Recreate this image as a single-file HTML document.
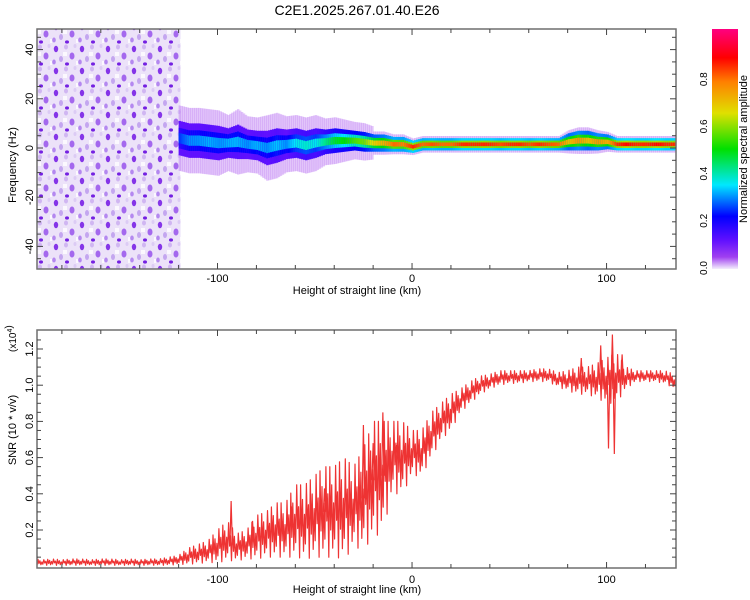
<!DOCTYPE html>
<html><head><meta charset="utf-8">
<style>
body{margin:0;background:#fff;}
svg{display:block;font-family:"Liberation Sans",sans-serif;}
</style></head>
<body>
<svg id="chart" width="750" height="600" viewBox="0 0 750 600">
<defs>
<pattern id="noisePat" width="26" height="22" patternUnits="userSpaceOnUse">
<rect width="26" height="22" fill="#ece2f9"/>
<ellipse cx="4" cy="5" rx="2.2" ry="3.2" fill="#8535e8"/>
<ellipse cx="14" cy="3" rx="2" ry="2.5" fill="#d0b6f2"/>
<ellipse cx="20" cy="12" rx="2.5" ry="3.5" fill="#a468ee"/>
<ellipse cx="9" cy="15" rx="2" ry="3" fill="#c4a6f0"/>
<ellipse cx="23" cy="2" rx="1.5" ry="2" fill="#dccbf5"/>
<ellipse cx="2" cy="18" rx="1.8" ry="2.5" fill="#b488f0"/>
<ellipse cx="15" cy="20" rx="2" ry="1.6" fill="#7420e2"/>
<rect x="11" y="8" width="4" height="4" fill="#fbf8fe"/>
<rect x="24" y="17" width="2" height="4" fill="#fbf8fe"/>
</pattern>
<linearGradient id="cbar" x1="0" y1="1" x2="0" y2="0">
<stop offset="0" stop-color="#f4eefc"/>
<stop offset="0.05" stop-color="#a040f0"/>
<stop offset="0.12" stop-color="#6010ff"/>
<stop offset="0.22" stop-color="#0000ff"/>
<stop offset="0.35" stop-color="#00e8ff"/>
<stop offset="0.5" stop-color="#00e000"/>
<stop offset="0.65" stop-color="#e0e000"/>
<stop offset="0.78" stop-color="#ff8000"/>
<stop offset="0.88" stop-color="#ff0000"/>
<stop offset="1" stop-color="#ff0080"/>
</linearGradient>
<clipPath id="clipTop"><rect x="37" y="29" width="639" height="240"/></clipPath>
<clipPath id="clipBot"><rect x="37" y="330" width="639" height="238"/></clipPath>
</defs>
<text x="357" y="15" font-size="14" text-anchor="middle">C2E1.2025.267.01.40.E26</text>
<g id="topplot" clip-path="url(#clipTop)"></g>
<g id="botplot" clip-path="url(#clipBot)"></g>
<g id="axes"></g>
<rect x="712" y="29" width="26" height="240" fill="url(#cbar)"/>
<g id="cb"></g>
<text transform="translate(747,149) rotate(-90)" font-size="11" text-anchor="middle">Normalized spectral amplitude</text>
<text transform="translate(16,165) rotate(-90)" font-size="11" text-anchor="middle">Frequency (Hz)</text>
<text x="357" y="294" font-size="11" text-anchor="middle">Height of straight line (km)</text>
<text transform="translate(16,430) rotate(-90)" font-size="11" text-anchor="middle">SNR (10 * v/v)</text>
<text transform="translate(16,352) rotate(-90)" font-size="10">(x10<tspan dy="-4" font-size="7">4</tspan>)</text>
<text x="357" y="593" font-size="11" text-anchor="middle">Height of straight line (km)</text>
</svg>
<script>
// ---- data ----
const heightTicks = [-100, 0, 100];
const freqTicks = [-40, -20, 0, 20, 40];
const snrTicks = [0.2, 0.4, 0.6, 0.8, 1.0, 1.2];
const cbTicks = [0.0, 0.2, 0.4, 0.6, 0.8];
const bandHeights = [-120,-115,-110,-105,-100,-95,-90,-85,-80,-75,-70,-65,-60,-55,-50,-45,-40,-35,-30,-25,-20,-15,-10,-5,0,5,10,15,20,25,30,35,40,45,50,55,60,65,70,75,80,85,90,95,100,105,110,115,120,125,130,135];
const bandCenter = [4,3,3,2.5,2,2,2.5,1.5,1,0,1,1.5,2,1,2,2.5,3,3,3,2.5,2,2,1.5,1.5,0.5,1.5,1.5,1.5,1.5,1.5,1.5,1.5,1.5,1.5,1.5,1.5,1.5,1.5,1.5,1.5,2.5,3,3,2.5,2.5,1.5,1.5,1.5,1.5,1.5,1.5,1.5];
const bandWidth = [7,7,7,7,7,6,7,6,6,7,7,6,6,6,6,5,5,4.5,4,4,3.5,3.5,3,3,2.5,2.5,2.5,2.5,2.5,2.5,2.5,2.5,2.5,2.5,2.5,2.5,2.5,2.5,2.5,2.5,3.5,4,4,3.5,3,2.5,2.5,2.5,2.5,2.5,2.5,2.5];
const bandAmp = [0.25,0.3,0.3,0.32,0.3,0.32,0.32,0.3,0.32,0.3,0.33,0.3,0.36,0.38,0.36,0.42,0.48,0.5,0.55,0.58,0.68,0.72,0.8,0.78,0.85,0.8,0.82,0.8,0.8,0.85,0.85,0.85,0.85,0.82,0.85,0.85,0.82,0.85,0.82,0.8,0.7,0.75,0.7,0.75,0.72,0.85,0.88,0.85,0.85,0.88,0.85,0.85];
const snrHeights = [-195,-190,-185,-180,-175,-170,-165,-160,-155,-150,-145,-140,-135,-130,-125,-120,-115,-110,-105,-100,-95,-90,-85,-80,-75,-70,-65,-60,-55,-50,-45,-40,-35,-30,-25,-20,-15,-10,-5,0,5,10,15,20,25,30,35,40,45,50,55,60,65,70,75,80,85,90,95,100,105,110,115,120,125,130,135];
const snrLow = [0.005,0.005,0.005,0.005,0.005,0.005,0.005,0.005,0.005,0.005,0.005,0.005,0.005,0.005,0.005,0.01,0.01,0.015,0.02,0.02,0.03,0.03,0.04,0.04,0.05,0.05,0.05,0.05,0.04,0.05,0.05,0.05,0.04,0.1,0.1,0.15,0.2,0.4,0.4,0.5,0.5,0.6,0.7,0.75,0.85,0.9,0.95,0.98,1.0,1.01,1.01,1.02,1.02,1.02,0.99,0.97,0.95,0.95,0.93,0.9,0.9,0.98,1.02,1.02,1.02,1.01,0.98];
const snrHigh = [0.04,0.035,0.04,0.035,0.04,0.04,0.035,0.04,0.04,0.035,0.04,0.035,0.04,0.04,0.05,0.06,0.1,0.12,0.14,0.2,0.25,0.18,0.2,0.28,0.3,0.35,0.35,0.45,0.45,0.5,0.55,0.55,0.6,0.55,0.65,0.8,0.8,0.8,0.8,0.75,0.75,0.85,0.9,0.95,0.98,1.02,1.05,1.06,1.08,1.08,1.08,1.08,1.09,1.09,1.07,1.08,1.1,1.1,1.12,1.15,1.18,1.1,1.08,1.08,1.08,1.08,1.06];
const spikeHeights = [-93,-82,-62,-45,-25,-20,-15,-8,2,87,97,101,103,104,108];
const spikeValues = [0.36,0.25,0.33,0.43,0.78,0.68,0.85,0.67,0.62,1.15,1.22,0.65,1.28,0.62,1.17];

// ---- scales ----
const X0=37, X1=676, H0=-192.8, H1=135.7;
const xs = h => X0 + (h-H0)/(H1-H0)*(X1-X0);
const fy = f => 148 - f*2.46;
const sy = v => 566.2 - v*181;
const cy = v => 268 - v*236;
const NS='http://www.w3.org/2000/svg';
function mk(tag, attrs, parent){const e=document.createElementNS(NS,tag);for(const k in attrs)e.setAttribute(k,attrs[k]);parent.appendChild(e);return e;}
function cmap(v){
  const st=[[0,[244,238,252]],[0.05,[160,64,240]],[0.12,[96,16,255]],[0.22,[0,0,255]],[0.35,[0,232,255]],[0.5,[0,224,0]],[0.65,[224,224,0]],[0.78,[255,128,0]],[0.88,[255,0,0]],[1,[255,0,128]]];
  for(let i=1;i<st.length;i++){if(v<=st[i][0]){const t=(v-st[i-1][0])/(st[i][0]-st[i-1][0]);const a=st[i-1][1],b=st[i][1];return 'rgb('+a.map((c,j)=>Math.round(c+(b[j]-c)*t)).join(',')+')';}}
  return 'rgb(255,0,128)';
}
function interp(xa, ys, x){
  if(x<=xa[0])return ys[0]; if(x>=xa[xa.length-1])return ys[ys.length-1];
  for(let i=1;i<xa.length;i++){if(x<=xa[i]){const t=(x-xa[i-1])/(xa[i]-xa[i-1]);return ys[i-1]+(ys[i]-ys[i-1])*t;}}
}

// ---- spectrogram ----
const topG=document.getElementById('topplot');
const noise=mk('rect',{x:X0,y:29,width:xs(-119)-X0,height:240,fill:'url(#noisePat)'},topG);


for(let h=-120;h<=136;h+=1){
  const c=interp(bandHeights,bandCenter,h), w=interp(bandHeights,bandWidth,h), a=interp(bandHeights,bandAmp,h);
  const x=xs(h), cw=xs(h+1)-x+0.5;
  const halo = h<-20 ? w*1.9 : w*1.35;
  const layers=[[halo,0.05,0.3],[w,Math.max(0.12,a*0.4),1],[w*0.6,a*0.7,1],[w*0.3,a,1]];
  layers.forEach(L=>{
    const r=mk('rect',{x:x,y:fy(c+L[0]),width:cw,height:fy(c-L[0])-fy(c+L[0]),fill:cmap(L[1]),opacity:L[2]},topG);
    
    
  });
}

// ---- SNR line ----
const botG=document.getElementById('botplot');
let pts=[];const pat=[0,1,0.3,0.8,0.1,0.6,0.2,1,0.4,0.7];
let k=0;
for(let h=H0;h<=H1;h+=0.5){
  const lo=interp(snrHeights,snrLow,h), hi=interp(snrHeights,snrHigh,h);
  pts.push(xs(h).toFixed(1)+','+sy(lo+(hi-lo)*pat[k%pat.length]).toFixed(1)); k++;
}
const line=mk('polyline',{points:pts.join(' '),fill:'none',stroke:'#ee3333','stroke-width':1.2,'stroke-linejoin':'round'},botG);


spikeHeights.forEach((h,i)=>{
  const base=interp(snrHeights,snrLow,h)*0.5+interp(snrHeights,snrHigh,h)*0.5;
  const s=mk('polyline',{points:xs(h-0.6)+','+sy(base)+' '+xs(h)+','+sy(spikeValues[i])+' '+xs(h+0.6)+','+sy(base),fill:'none',stroke:'#ee3333','stroke-width':1.2},botG);
  
  
});

// ---- axes ----
const ax=document.getElementById('axes');
function frame(y0,y1,name){
  const r=mk('rect',{x:X0,y:y0,width:X1-X0,height:y1-y0,fill:'none',stroke:'#6f6f6f','stroke-width':1.5},ax);
  
  
}
frame(29,269,'top-plot-frame');frame(330,568,'bottom-plot-frame');
function tk(x1,y1,x2,y2){mk('line',{x1:x1,y1:y1,x2:x2,y2:y2,stroke:'#444','stroke-width':1},ax);}
for(let h=-180;h<=130;h+=20){const x=xs(h);[[29,1],[269,-1],[330,1],[568,-1]].forEach(p=>tk(x,p[0],x,p[0]+p[1]*(h%100===0?6:4)));}
heightTicks.forEach(h=>{[282,583].forEach(y=>{const t=mk('text',{x:xs(h),y:y,'font-size':11,'text-anchor':'middle'},ax);t.textContent=h;});});
for(let f=-45;f<=45;f+=5){const y=fy(f);const L=f%20===0?6:4;tk(X0,y,X0+L,y);tk(X1,y,X1-L,y);}
freqTicks.forEach(f=>{const t=mk('text',{transform:'translate(33,'+fy(f)+') rotate(-90)','font-size':11,'text-anchor':'middle'},ax);t.textContent=f;});
for(let v=0.05;v<=1.3;v+=0.05){const y=sy(v);const L=Math.abs(v*5-Math.round(v*5))<0.01?6:4;tk(X0,y,X0+L,y);tk(X1,y,X1-L,y);}
snrTicks.forEach(v=>{const t=mk('text',{transform:'translate(33,'+sy(v)+') rotate(-90)','font-size':11,'text-anchor':'middle'},ax);t.textContent=v.toFixed(1);});
const cb=document.getElementById('cb');
cbTicks.forEach(v=>{const t=mk('text',{transform:'translate(707,'+cy(v)+') rotate(-90)','font-size':10,'text-anchor':'middle'},cb);t.textContent=v.toFixed(1);});
</script>
</body></html>
